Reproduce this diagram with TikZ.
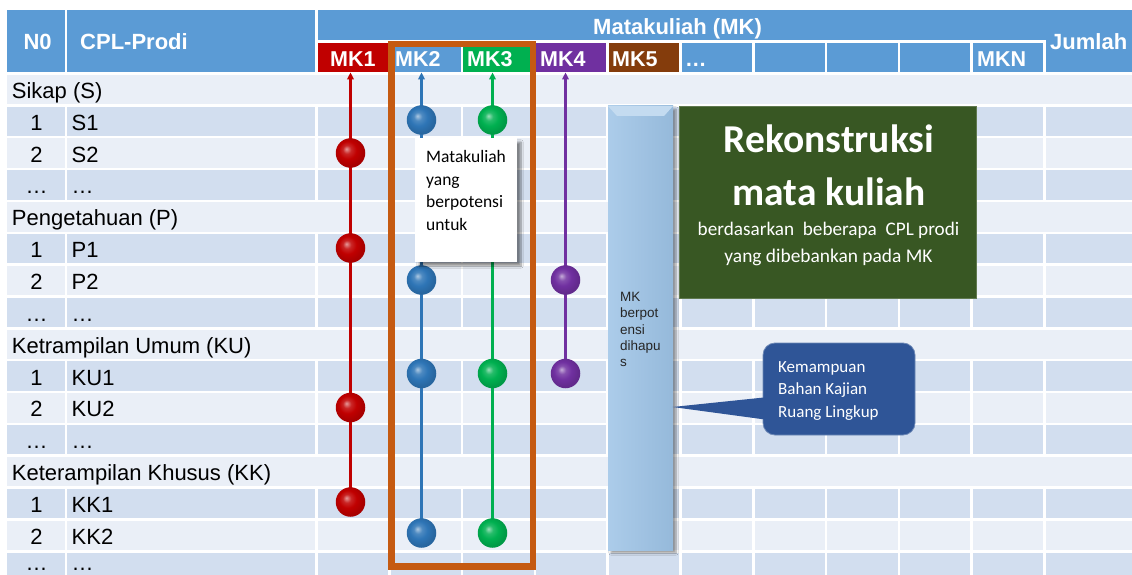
\documentclass[tikz,border=0pt]{standalone}
\usepackage{fontspec}
\setmainfont{Liberation Sans}
\newfontfamily\calibri{Carlito}
\usetikzlibrary{arrows.meta,shadows.blur}
\definecolor{hdr}{HTML}{5B9BD5}
\definecolor{rowdark}{HTML}{D2DEEF}
\definecolor{rowlight}{HTML}{EAEFF7}
\definecolor{mkred}{HTML}{C00000}
\definecolor{mkblue}{HTML}{2E75B6}
\definecolor{mkgreen}{HTML}{00B050}
\definecolor{mkpurple}{HTML}{7030A0}
\definecolor{mkbrown}{HTML}{843C0C}
\definecolor{boxorange}{HTML}{C55A11}
\definecolor{boxgreen}{HTML}{385723}
\definecolor{calloutblue}{HTML}{2F5597}
\definecolor{paleblue}{HTML}{9DC3E6}
\definecolor{txtgray}{HTML}{262626}
\colorlet{mybc}{red}
\pgfdeclareradialshading[mybc]{softball}{\pgfpoint{-7bp}{7bp}}{color(0bp)=(mybc!40!white); color(7bp)=(mybc!85!white); color(15bp)=(mybc); color(25bp)=(mybc!88!black); color(50bp)=(mybc!80!black)}
\tikzset{
  hdrtext/.style={text=white,font=\fontsize{22}{24}\selectfont\bfseries,inner sep=0pt,anchor=base west},
  mktext/.style={text=white,font=\fontsize{21.5}{24}\selectfont\bfseries,inner sep=0pt,anchor=base west},
  bodytext/.style={text=black,font=\fontsize{22}{24}\selectfont,inner sep=0pt,anchor=base west},
  numtext/.style={text=black,font=\fontsize{22}{24}\selectfont,inner sep=0pt,anchor=base},
  mkcell/.style={draw=none,minimum width=70.3pt,minimum height=29.4pt,inner sep=0pt},
  ballnode/.style={circle,minimum size=29.5pt,inner sep=0pt},
  mkline/.style={line width=2.2pt,-{Triangle[length=7pt,width=6.5pt]}},
}
\begin{document}
\begin{tikzpicture}[x=1pt,y=-1pt]
\clip (0,0) rectangle (1132,575);
\fill[white] (0,0) rectangle (1132,575);
% ---------- header ----------
\fill[hdr] (7.25,9.75) rectangle (64.75,72.25);
\fill[hdr] (67.25,9.75) rectangle (315.25,72.25);
\fill[hdr] (317.75,9.75) rectangle (1140,40.2);
\fill[hdr] (1045.75,9.75) rectangle (1140,72.25);
\node[mkcell,fill=mkred]    (mk1) at (352.9,57.5) {};
\node[mkcell,fill=hdr]      (mk2) at (425.7,57.5) {};
\node[mkcell,fill=mkgreen]  (mk3) at (498.5,57.5) {};
\node[mkcell,fill=mkpurple] (mk4) at (571.3,57.5) {};
\node[mkcell,fill=mkbrown]  (mk5) at (644.1,57.5) {};
\node[mkcell,fill=hdr]      (mk6) at (716.9,57.5) {};
\node[mkcell,fill=hdr]      (mk7) at (789.7,57.5) {};
\node[mkcell,fill=hdr]      (mk8) at (862.5,57.5) {};
\node[mkcell,fill=hdr]      (mk9) at (935.3,57.5) {};
\node[mkcell,fill=hdr]      (mkn) at (1008.1,57.5) {};
\node[hdrtext] (tno) at (23.3,50) {N0};
\node[hdrtext] (tcpl) at (80,50) {CPL-Prodi};
\node[hdrtext] (tmk) at (593,35) {Matakuliah (MK)};
\node[hdrtext] (tjml) at (1050,50) {Jumlah};
\node[mktext] (l1) at (330,66.5) {MK1};
\node[mktext] (l2) at (395,66.5) {MK2};
\node[mktext] (l3) at (467,66.5) {MK3};
\node[mktext] (l4) at (540,66.5) {MK4};
\node[mktext] (l5) at (612,66.5) {MK5};
\node[mktext] (l6) at (685,66.5) {…};
\node[mktext] (ln) at (977,66.5) {MKN};
% ---------- body rows ----------
\foreach \i in {0,...,15}{
  \pgfmathsetmacro{\ya}{73.5+31.85*\i+1.25}
  \pgfmathsetmacro{\yb}{73.5+31.85*(\i+1)-1.25}
  \pgfmathtruncatemacro{\m}{mod(\i,4)}
  \ifnum\m=0
    \fill[rowlight] (7.25,\ya) rectangle (1140,\yb);
  \else
    \ifnum\m=2 \def\rc{rowlight}\else\def\rc{rowdark}\fi
    \foreach \xa/\xb in {6/66,66/316.5,316.5/389.3,389.3/462.1,462.1/534.9,534.9/607.7,607.7/680.5,680.5/753.3,753.3/826.1,826.1/898.9,898.9/971.7,971.7/1044.5,1044.5/1141}{
      \fill[\rc] ({\xa+1.25},\ya) rectangle ({\xb-1.25},\yb);
    }
  \fi
}
% ---------- body text ----------
\foreach \i/\t in {0/Sikap (S),4/Pengetahuan (P),8/Ketrampilan Umum (KU),12/Keterampilan Khusus (KK)}{
  \node[bodytext] at (11.7,{73.5+31.85*\i+24.9}) {\t};
}
\foreach \i/\n/\t in {1/1/S1,2/2/S2,3/…/…,5/1/P1,6/2/P2,7/…/…,9/1/KU1,10/2/KU2,11/…/…,13/1/KK1,14/2/KK2}{
  \node[numtext] at (36.5,{73.5+31.85*\i+24.9}) {\n};
  \node[bodytext] at (71.5,{73.5+31.85*\i+24.9}) {\t};
}
\node[numtext] (lastn) at (36.5,570) {…};
\node[bodytext] (lastt) at (71.5,570) {…};
% ---------- ball positions ----------
\node[ballnode] (r1) at (350.5,153) {};
\node[ballnode] (r2) at (350.5,248) {};
\node[ballnode] (r3) at (350.5,407.5) {};
\node[ballnode] (r4) at (350.5,502) {};
\node[ballnode] (b1) at (421.5,120) {};
\node[ballnode] (b2) at (421.5,280) {};
\node[ballnode] (b3) at (421.5,373.5) {};
\node[ballnode] (b4) at (421.5,533) {};
\node[ballnode] (g1) at (492.5,120) {};
\node[ballnode] (g2) at (492.5,373.5) {};
\node[ballnode] (g3) at (492.5,533) {};
\node[ballnode] (p1) at (565.5,280) {};
\node[ballnode] (p2) at (565.5,373.5) {};
% ---------- connectors ----------
\draw[mkline,mkred] (r4.center) -- (r4.center |- mk1.south);
\draw[mkline,mkblue] (b4.center) -- (b4.center |- mk2.south);
\draw[mkline,mkgreen] (g3.center) -- (g3.center |- mk3.south);
\draw[mkline,mkpurple] (p2.center) -- (p2.center |- mk4.south);
% ---------- balls on top of the lines ----------
\foreach \b/\c in {r1/mkred,r2/mkred,r3/mkred,r4/mkred,b1/mkblue,b2/mkblue,b3/mkblue,b4/mkblue,g1/mkgreen,g2/mkgreen,g3/mkgreen,p1/mkpurple,p2/mkpurple}{
  \colorlet{mybc}{\c}
  \shade[shading=softball] (\b.center) circle (14.75);
}
% ---------- white callout ----------
\node[fill=white,blur shadow={shadow xshift=4pt,shadow yshift=-4pt,shadow blur steps=8,shadow opacity=45},
      minimum width=102pt,minimum height=124pt,inner sep=0pt] (wbox) at (466,200) {};
\node[font=\calibri\fontsize{17.5}{22.5}\selectfont,text=black,anchor=base west,inner sep=0pt,align=left] (wtxt) at (426,230) {Matakuliah\\yang\\berpotensi\\untuk};
% ---------- orange frame ----------
\draw[boxorange,line width=6.5pt] (391.5,44) rectangle (533,566.5);
% ---------- pale blue box ----------
\node[blur shadow={shadow xshift=3pt,shadow yshift=-3pt,shadow blur steps=6,shadow opacity=40},
      left color=paleblue!85!white,right color=paleblue!95!black,minimum width=65pt,minimum height=444pt,inner sep=0pt] (pbox) at (640.5,328) {};
\fill[paleblue!60!white] (pbox.north west) -- (pbox.north east) -- ([xshift=-9pt,yshift=-10pt]pbox.north east) -- ([xshift=9pt,yshift=-10pt]pbox.north west) -- cycle;
\node[font=\fontsize{13.5}{16.3}\selectfont,text=txtgray,anchor=base west,inner sep=0pt,align=left] (ptxt) at (620,366.7) {MK\\berpot\\ensi\\dihapu\\s};
% ---------- green box ----------
\node[fill=boxgreen,draw=boxgreen!80!white,line width=0.6pt,minimum width=297pt,minimum height=192pt,inner sep=0pt] (gbox) at (827.5,202) {};
\node[font=\calibri\fontsize{39.5}{42}\selectfont\bfseries,text=white,anchor=base,inner sep=0pt] (gt1) at (829,153) {Rekonstruksi};
\node[font=\calibri\fontsize{39.5}{42}\selectfont\bfseries,text=white,anchor=base,inner sep=0pt] (gt2) at (829,205) {mata kuliah};
\node[font=\calibri\fontsize{19.2}{21}\selectfont,text=white,anchor=base,inner sep=0pt] (gt3) at (828.5,235) {berdasarkan\ \ beberapa\ \ CPL prodi};
\node[font=\calibri\fontsize{19.4}{21}\selectfont,text=white,anchor=base,inner sep=0pt] (gt4) at (828.5,262) {yang dibebankan pada MK};
% ---------- blue callout ----------
\coordinate (tip) at (672.5,407);
\node[fill=calloutblue,draw=calloutblue!70!white,line width=0.8pt,rounded corners=12pt,minimum width=152pt,minimum height=92pt,inner sep=0pt] (bcall) at (839,389) {};
\fill[calloutblue] (tip) -- ([xshift=6pt]bcall.west |- 0,397) -- ([xshift=6pt]bcall.west |- 0,420) -- cycle;
\node[font=\calibri\fontsize{17}{22.5}\selectfont,text=white,anchor=base west,inner sep=0pt,align=left] (btxt) at (778,417) {Kemampuan\\Bahan Kajian\\Ruang Lingkup};
\end{tikzpicture}
\end{document}
